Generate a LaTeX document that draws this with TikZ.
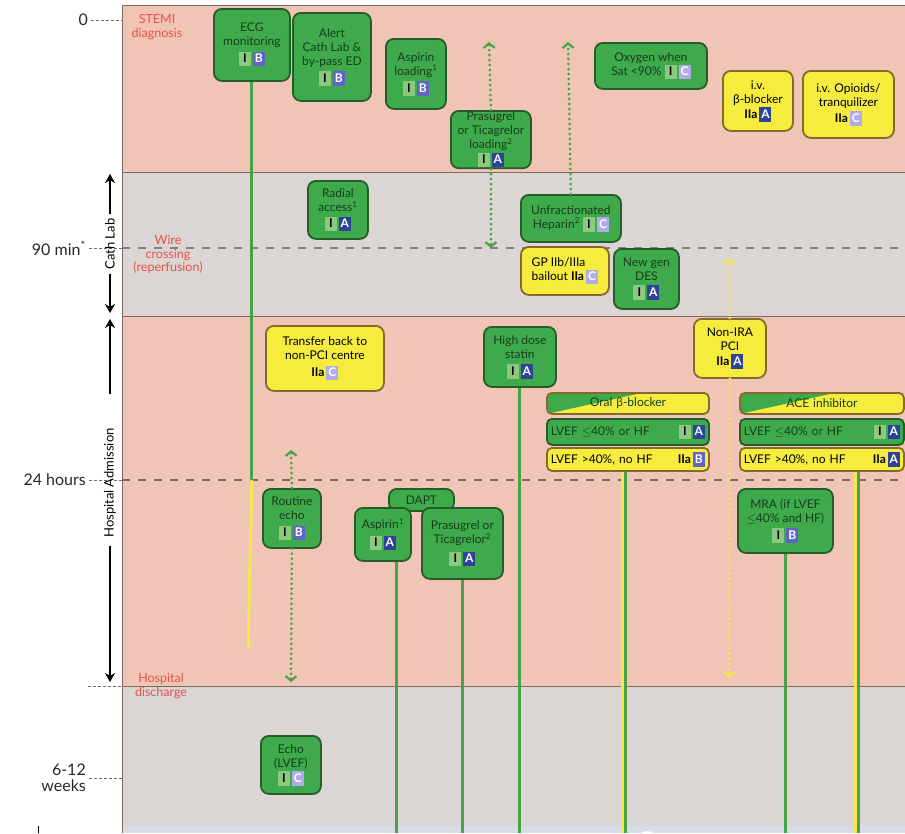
\documentclass[tikz,border=0pt]{standalone}
\usepackage{fontspec}
\setmainfont{Lato}
\usepackage{xcolor}
\usepackage{tikz}
\usetikzlibrary{arrows.meta,positioning}
\definecolor{pinkband}{RGB}{241,197,182}
\definecolor{grayband}{RGB}{219,213,211}
\definecolor{bluestrip}{RGB}{214,220,232}
\definecolor{bandline}{RGB}{125,105,100}
\definecolor{gfill}{RGB}{62,170,76}
\definecolor{gborder}{RGB}{38,92,44}
\definecolor{gtext}{RGB}{22,62,28}
\definecolor{yfill}{RGB}{246,236,62}
\definecolor{yborder}{RGB}{135,105,45}
\definecolor{redlab}{RGB}{232,82,72}
\definecolor{gline}{RGB}{72,162,72}
\definecolor{yline}{RGB}{246,230,80}
\definecolor{clsI}{RGB}{140,200,128}
\definecolor{lvA}{RGB}{45,68,150}
\definecolor{lvB}{RGB}{96,100,200}
\definecolor{lvC}{RGB}{176,172,236}
\definecolor{axistext}{RGB}{40,40,40}
\definecolor{tickgray}{RGB}{110,110,110}
\newcommand{\boxfont}{\fontsize{12}{14}\selectfont}
\newcommand{\lvbadge}[2]{{\setlength{\fboxsep}{1.5pt}\colorbox{#1}{\makebox[9pt]{\rule[-2pt]{0pt}{11.5pt}\color{white}\bfseries #2}}}}
\newcommand{\lvlA}{\lvbadge{lvA}{A}}
\newcommand{\lvlB}{\lvbadge{lvB}{B}}
\newcommand{\lvlC}{\lvbadge{lvC}{C}}
\newcommand{\clsOne}{{\setlength{\fboxsep}{1.5pt}\colorbox{clsI}{\makebox[9pt]{\rule[-2pt]{0pt}{11.5pt}\color{black}\bfseries I}}}}
\newcommand{\clsTwoA}{{\color{black}\bfseries IIa}}
\tikzset{
  gbox/.style={rectangle, rounded corners=8pt, draw=gborder, fill=gfill,
               line width=1.8pt, text=gtext, font=\boxfont, align=center,
               inner sep=1pt, anchor=north west},
  ybox/.style={gbox, draw=yborder, fill=yfill, text=black},
  rowbox/.style={gbox, rounded corners=5pt, align=left, inner xsep=4pt},
  yrowbox/.style={rowbox, draw=yborder, fill=yfill, text=black},
  headbox/.style={rowbox, draw=yborder, fill=yfill, align=center,
               path picture={\fill[gfill] (path picture bounding box.north west)
                 -- ([xshift=95pt]path picture bounding box.north west)
                 -- (path picture bounding box.south west) -- cycle;}},
  rlabel/.style={text=redlab, font=\fontsize{12.5}{13.5}\selectfont, align=center, inner sep=0pt},
  tlabel/.style={text=axistext, font=\fontsize{16}{16}\selectfont, align=right, inner sep=0pt},
  vlabel/.style={text=black, font=\fontsize{13}{14}\selectfont, rotate=90, inner sep=4pt},
  tick/.style={draw=tickgray, line width=1pt, dash pattern=on 2.5pt off 2.5pt},
  vline/.style={line width=3pt, draw=gline},
  yvline/.style={line width=3pt, draw=yline},
  dots/.style={line width=3pt, draw=#1, dash pattern=on 0pt off 5pt, line cap=round,
               -{Straight Barb[length=4.5pt,width=11pt,line width=2.2pt]}},
  dots/.default=gline,
  arr/.style={-{Stealth[length=9pt,width=10pt]}, line width=1.8pt, black},
}
\begin{document}
\begin{tikzpicture}[x=1pt,y=-1pt]
  \useasboundingbox (0,0) rectangle (905,833);
  \clip (0,0) rectangle (905,833);
  % bands
  \fill[pinkband] (122,5) rectangle (905,172);
  \fill[grayband] (122,172) rectangle (905,316);
  \fill[pinkband] (122,316) rectangle (905,686);
  \fill[grayband] (122,686) rectangle (905,826);
  \fill[bluestrip] (122,826) rectangle (905,833);
  \fill[white] (647,842) circle (11);
  \foreach \yy in {5,172,316,686} {
    \draw[bandline, line width=0.9pt] (122,\yy) -- (905,\yy);
  }
  \draw[bandline, line width=0.9pt] (122,5) -- (122,833);
  \draw[black, line width=0.9pt] (38,826) -- (38,833);

  % time axis
  \coordinate (t0) at (122,20);
  \coordinate (t90) at (122,248);
  \coordinate (t24) at (122,480);
  \coordinate (tdis) at (122,686);
  \coordinate (twk) at (122,778);
  \node[tlabel, anchor=east] (l0) at (88,20) {0};
  \node[tlabel, anchor=east] (l90) at (86,248) {90 min\textsuperscript{*}};
  \node[tlabel, anchor=east] (l24) at (86,480) {24 hours};
  \node[tlabel, anchor=east] (lwk) at (86,778) {6-12\\weeks};
  \coordinate (ldis) at (88,686);
  \draw[tick] (l0.east) ++(3,0) -- (t0);
  \draw[tick] (l90.east) ++(3,0) -- (t90);
  \draw[tick] (l24.east) ++(3,0) -- (t24);
  \draw[tick] (lwk.east) ++(3,0) -- (twk);
  \draw[tick] (ldis) -- (tdis);
  \draw[draw=gray, line width=1.3pt, dash pattern=on 8pt off 8pt] (t90) -- (905,248);
  \draw[draw=bandline, line width=1.3pt, dash pattern=on 8pt off 8pt] (t24) -- (905,480);

  % phases
  \node[vlabel] (cath) at (110,244) {Cath Lab};
  \coordinate (cathtop) at (110,174);
  \coordinate (cathbot) at (110,313);
  \draw[arr] (cath.east) -- (cathtop);
  \draw[arr] (cath.west) -- (cathbot);
  \node[vlabel] (hadm) at (110,483) {Hospital Admission};
  \coordinate (hadmtop) at (110,319);
  \coordinate (hadmbot) at (110,682);
  \draw[arr] (hadm.east) ++(0,-30) -- (hadmtop);
  \draw[arr] (hadm.west) ++(0,4) -- (hadmbot);

  \node[rlabel] (stemi) at (157,27) {STEMI\\diagnosis};
  \node[rlabel] (wire) at (168,255) {Wire\\crossing\\(reperfusion)};
  \node[rlabel] (disch) at (161,686) {Hospital\\discharge};

  % first medical contact to cath lab
  \node[gbox, minimum width=76, minimum height=72] (ecg) at (213,8) {ECG\\monitoring\\[3pt]\clsOne\,\lvlB};
  \node[gbox, minimum width=78, minimum height=88] (alert) at (292,12) {Alert\\Cath Lab \&\\by-pass ED\\[3pt]\clsOne\,\lvlB};
  \node[gbox, minimum width=60, minimum height=70] (asp0) at (385,38) {Aspirin\\loading\textsuperscript{1}\\[3pt]\clsOne\,\lvlB};
  \node[gbox, minimum width=80, minimum height=56] (pras0) at (450,110) {Prasugrel\\or Ticagrelor\\loading\textsuperscript{2}\\[1pt]\clsOne\,\lvlA};
  \node[gbox, minimum width=112, minimum height=46] (oxy) at (594,42) {Oxygen when\\Sat <90\% \clsOne\,\lvlC};
  \node[ybox, minimum width=70, minimum height=60] (ivbb) at (722,70) {i.v.\\β-blocker\\[1pt]\clsTwoA\,\lvlA};
  \node[ybox, minimum width=91, minimum height=67] (opi) at (802,70) {i.v. Opioids/\\tranquilizer\\[2pt]\clsTwoA\,\lvlC};

  % cath lab
  \node[gbox, minimum width=60, minimum height=58] (radial) at (307,180) {Radial\\access\textsuperscript{1}\\[2pt]\clsOne\,\lvlA};
  \node[gbox, minimum width=100, minimum height=47] (ufh) at (520,194) {Unfractionated\\Heparin\textsuperscript{2} \clsOne\,\lvlC};
  \node[ybox, minimum width=88, minimum height=48, align=left] (gp) at (520,246) {GP IIb/IIIa\\bailout \clsTwoA\,\lvlC};
  \node[gbox, minimum width=65, minimum height=60] (des) at (613,248) {New gen\\DES\\[2pt]\clsOne\,\lvlA};

  % hospital admission
  \node[ybox, minimum width=72, minimum height=59] (nonira) at (693,318) {Non-IRA\\PCI\\[1pt]\clsTwoA\,\lvlA};
  \node[ybox, minimum width=118, minimum height=65] (transfer) at (265,325) {Transfer back to\\non-PCI centre\\[3pt]\clsTwoA\,\lvlC};
  \node[gbox, minimum width=72, minimum height=60] (statin) at (483,326) {High dose\\statin\\[3pt]\clsOne\,\lvlA};
  \node[headbox, minimum width=162, minimum height=21, text width=154pt] (obbh) at (546,392) {Oral β-blocker};
  \node[rowbox, minimum width=162, minimum height=26, text width=154pt] (obb1) at (546,418) {LVEF $\leq$40\% or HF\hfill\clsOne\,\lvlA};
  \node[yrowbox, minimum width=162, minimum height=23, text width=154pt] (obb2) at (546,447) {LVEF >40\%, no HF\hfill\clsTwoA\,\lvlB};
  \node[headbox, minimum width=164, minimum height=21, text width=156pt] (aceh) at (739,392) {ACE inhibitor};
  \node[rowbox, minimum width=164, minimum height=26, text width=156pt] (ace1) at (739,418) {LVEF $\leq$40\% or HF\hfill\clsOne\,\lvlA};
  \node[yrowbox, minimum width=164, minimum height=23, text width=156pt] (ace2) at (739,447) {LVEF >40\%, no HF\hfill\clsTwoA\,\lvlA};
  \node[gbox, minimum width=58, minimum height=59] (recho) at (262,488) {Routine\\echo\\[3pt]\clsOne\,\lvlB};
  \node[gbox, minimum width=65, minimum height=22] (dapt) at (388,488) {DAPT};
  \node[gbox, minimum width=56, minimum height=53] (asp1) at (354,507) {Aspirin\textsuperscript{1}\\[4pt]\clsOne\,\lvlA};
  \node[gbox, minimum width=81, minimum height=71] (pras1) at (421,507) {Prasugrel or\\Ticagrelor\textsuperscript{2}\\[5pt]\clsOne\,\lvlA};
  \node[gbox, minimum width=95, minimum height=64] (mra) at (737,488) {MRA (if LVEF\\$\leq$40\% and HF)\\[3pt]\clsOne\,\lvlB};

  % after discharge
  \node[gbox, minimum width=60, minimum height=58] (echo) at (260,735) {Echo\\(LVEF)\\[1pt]\clsOne\,\lvlC};

  % duration of treatment
  \coordinate (bot) at (0,833);
  \coordinate (ecgend) at (248,648);
  \draw[vline] (ecg.south) -- (ecg.south |- t24);
  \draw[yvline] (ecg.south |- t24) -- (ecgend);
  \draw[vline] ([xshift=14pt]asp1.south) -- ([xshift=14pt]asp1.south |- bot);
  \draw[vline] (pras1.south) -- (pras1.south |- bot);
  \draw[vline] (statin.south) -- (statin.south |- bot);
  \draw[vline] (mra.south) -- (mra.south |- bot);
  \draw[yvline] ([xshift=-5.5pt]obb2.south) -- ([xshift=-5.5pt]obb2.south |- bot);
  \draw[vline] ([xshift=-2.5pt]obb2.south) -- ([xshift=-2.5pt]obb2.south |- bot);
  \draw[yvline] ([xshift=33.5pt]ace2.south) -- ([xshift=33.5pt]ace2.south |- bot);
  \draw[vline] ([xshift=36.5pt]ace2.south) -- ([xshift=36.5pt]ace2.south |- bot);

  % time windows
  \coordinate (prastop) at (489,42);
  \coordinate (ufhtop) at (568,42);
  \coordinate (nonitop) at (729,258);
  \coordinate (noniend) at (729,678);
  \coordinate (rechotop) at (291,450);
  \coordinate (rechoend) at (291,682);
  \draw[dots] (pras0.north) -- (prastop);
  \draw[dots] (pras0.south) -- (pras0.south |- t90);
  \draw[dots] (ufh.north) -- (ufhtop);
  \draw[dots=yline] (nonira.north) -- (nonitop);
  \draw[dots=yline] (nonira.south) -- (noniend);
  \draw[dots] (recho.north) -- (rechotop);
  \draw[dots] (recho.south) -- (rechoend);
\end{tikzpicture}
\end{document}
